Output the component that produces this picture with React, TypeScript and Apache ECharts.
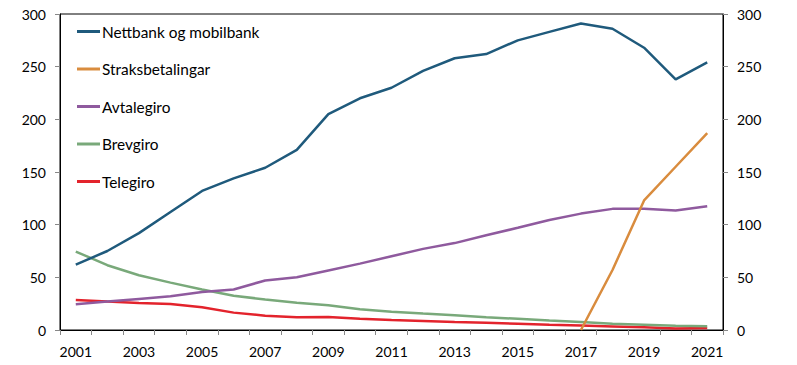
import React, { useEffect, useRef } from "react";
import * as echarts from "echarts";

const years = ["2001","2002","2003","2004","2005","2006","2007","2008","2009","2010","2011","2012","2013","2014","2015","2016","2017","2018","2019","2020","2021"];
const nettbank = [62, 75, 92, 112, 132, 144, 154, 171, 205, 220, 230, 246, 258, 262, 275, 283, 291, 286, 268, 238, 254];
const straks = [null, null, null, null, null, null, null, null, null, null, null, null, null, null, null, null, 0, 57, 123, 155, 187];
const avtalegiro = [24.5, 27, 29.5, 32, 36, 38.5, 47, 50, 56.5, 63, 70, 77, 82.5, 90, 97, 104.5, 110.5, 115, 115, 113.5, 117.5];
const brevgiro = [74.5, 61.5, 52, 45, 38.5, 32.5, 29, 25.8, 23.5, 19.6, 17.4, 15.6, 14, 12.2, 10.6, 9, 7.5, 6, 5, 4, 3.5];
const telegiro = [28.5, 27, 25.6, 24.6, 21.5, 16.5, 13.6, 12, 12.3, 10.6, 9.5, 8.5, 7.5, 6.8, 6, 5, 4.3, 3.4, 2.5, 1.5, 2];

const names = ["Nettbank og mobilbank", "Straksbetalingar", "Avtalegiro", "Brevgiro", "Telegiro"];
const colors = ["#1f5a7c", "#d98c3e", "#8f5a9e", "#79a97a", "#e3232c"];
const seriesData = [nettbank, straks, avtalegiro, brevgiro, telegiro];

const FONT = "Lato, 'Open Sans', sans-serif";

export default function App() {
  const ref = useRef<HTMLDivElement>(null);
  useEffect(() => {
    if (!ref.current) return;
    const chart = echarts.init(ref.current, null, { renderer: "svg" });
    const yAxisBase = {
      type: "value",
      min: 0,
      max: 300,
      interval: 50,
      splitLine: { show: false },
      axisLine: { show: true, lineStyle: { color: "#000", width: 1 } },
      axisTick: { show: true, length: 5, lineStyle: { color: "#888" } },
      axisLabel: { color: "#000", fontSize: 14, fontFamily: FONT, margin: 14 },
    };
    chart.setOption({
      animation: false,
      grid: { left: 60, right: 74, top: 14, bottom: 35, show: true, borderColor: "#000", borderWidth: 1, backgroundColor: "transparent" },
      legend: {
        orient: "vertical",
        left: 77,
        top: 24,
        padding: 0,
        itemGap: 22.5,
        itemWidth: 23,
        itemHeight: 3,
        icon: "rect",
        data: names,
        textStyle: { fontSize: 15.4, fontFamily: FONT, color: "#000", padding: [0, 0, 0, -3] },
      },
      xAxis: {
        type: "category",
        data: years,
        boundaryGap: true,
        axisLine: { show: true, lineStyle: { color: "#000" } },
        axisTick: { show: true, interval: 0, length: 5, lineStyle: { color: "#888" } },
        axisLabel: { interval: 1, color: "#000", fontSize: 14, fontFamily: FONT, margin: 14 },
      },
      yAxis: [
        { ...yAxisBase, position: "left" },
        { ...yAxisBase, position: "right" },
      ],
      series: seriesData.map((d, i) => ({
        name: names[i],
        type: "line",
        data: d,
        showSymbol: false,
        symbol: "none",
        lineStyle: { width: 2.5, color: colors[i] },
        itemStyle: { color: colors[i] },
        z: 10 - i,
      })),
    });
    return () => chart.dispose();
  }, []);
  return <div ref={ref} style={{ width: 797, height: 365, position: "absolute", left: 0, top: 0 }} />;
}
